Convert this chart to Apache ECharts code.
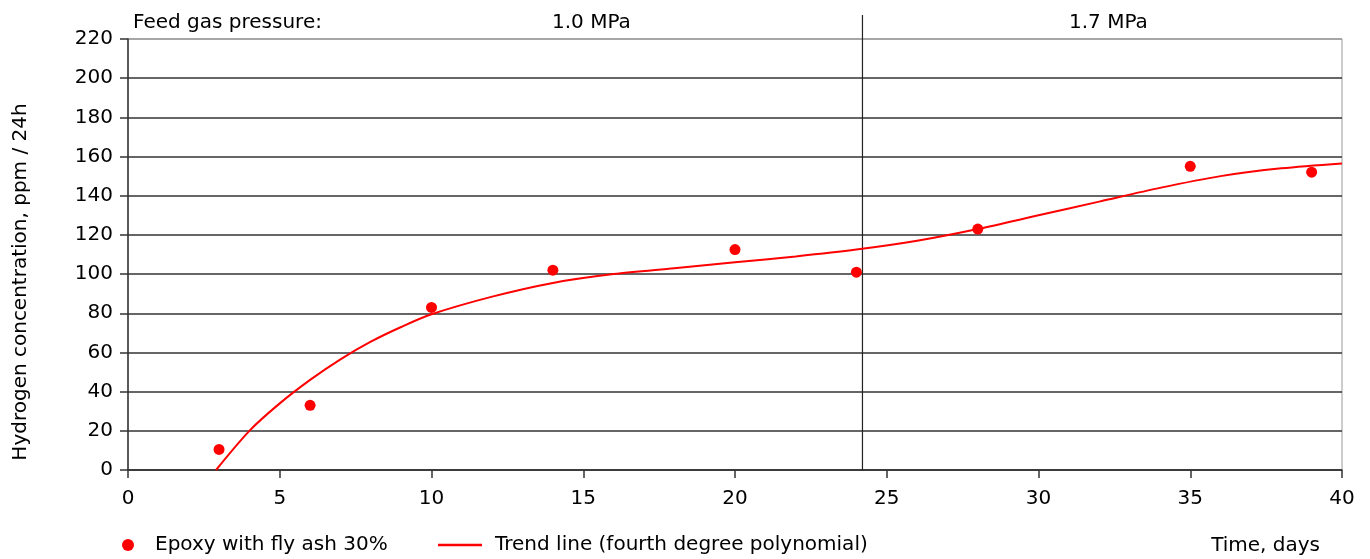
<!DOCTYPE html>
<html>
<head>
<meta charset="utf-8">
<script src="https://cdn.jsdelivr.net/npm/echarts@6/dist/echarts.min.js"></script>
<style>
    html, body {margin:0;padding:0;background:#fff;}
    #chart {width:1370px;height:559px;}
</style>
</head>
<body>
<div id="chart"></div>
<script>
    // measured points
    var dataDays = [3, 6, 10, 14, 20, 24, 28, 35, 39];
    var dataH2 = [10.5, 33, 83, 102, 112.5, 101, 123, 155, 152];

    // trend line (fourth degree polynomial)
    var trendDays = [2.9, 4, 5, 6, 7, 8, 9, 10, 12, 14, 16, 18, 20, 22, 24, 26, 28, 30, 32, 34, 36, 38, 40];
    var trendH2 = [0, 20, 34, 46, 56.5, 65.5, 73, 79.5, 88.5, 95.5, 100, 103, 106, 109, 112.5, 117, 123, 130, 137, 144, 150, 154, 156.5];

    var yTicks = [0, 20, 40, 60, 80, 100, 120, 140, 160, 180, 200, 220];
    var pressureChange = 24.2;
    var pressureLabels = ['Feed gas pressure:', '1.0 MPa', '1.7 MPa'];

    var font = '"DejaVu Sans", "Liberation Sans", Arial, sans-serif';
    var chart = echarts.init(document.getElementById('chart'));

    var splitColors = yTicks.map(function (v, i) { return i === yTicks.length - 1 ? '#9a9a9a' : '#333'; });

    var option = {
        animation: false,
        grid: {left: 128, right: 28, top: 39, bottom: 89, show: true, borderColor: '#9a9a9a', borderWidth: 1, backgroundColor: 'transparent'},
        xAxis: {
            type: 'value', min: 0, max: 40, interval: 5,
            axisLine: {lineStyle: {color: '#333', width: 1.5}},
            axisTick: {show: true, length: 8, lineStyle: {color: '#333', width: 1.5}},
            axisLabel: {color: '#000', fontSize: 20, fontFamily: font, margin: 19},
            splitLine: {show: false}
        },
        yAxis: {
            type: 'value', min: 0, max: 220, interval: 20,
            axisLine: {show: true, lineStyle: {color: '#333', width: 1.5}},
            axisTick: {show: true, length: 8, lineStyle: {color: '#333', width: 1.5}},
            axisLabel: {color: '#000', fontSize: 20, fontFamily: font, margin: 15},
            splitLine: {show: true, lineStyle: {color: splitColors, width: 1.5}}
        },
        legend: [{
            data: [{name: 'Epoxy with fly ash 30%', icon: 'circle'}],
            left: 117, bottom: -1, itemWidth: 12, itemHeight: 12,
            textStyle: {color: '#000', fontSize: 20, fontFamily: font, padding: [0, 0, 0, 16]}
        }, {
            data: [{name: 'Trend line (fourth degree polynomial)', icon: 'rect'}],
            left: 433, bottom: -1, itemWidth: 44, itemHeight: 2.5,
            textStyle: {color: '#000', fontSize: 20, fontFamily: font, padding: [0, 0, 0, 8]}
        }],
        graphic: [
            {type: 'text', left: 133, top: 13, style: {text: pressureLabels[0], fill: '#000', font: '20px ' + font}},
            {type: 'text', left: 552, top: 13, style: {text: pressureLabels[1], fill: '#000', font: '20px ' + font}},
            {type: 'text', left: 1069, top: 13, style: {text: pressureLabels[2], fill: '#000', font: '20px ' + font}},
            {type: 'text', right: 50, bottom: 3, style: {text: 'Time, days', fill: '#000', font: '20px ' + font}},
            {type: 'text', x: 21, y: 282, rotation: Math.PI / 2,
             style: {text: 'Hydrogen concentration, ppm / 24h', fill: '#000', font: '20px ' + font, align: 'center', verticalAlign: 'middle'}}
        ],
        series: [{
            name: 'Trend line (fourth degree polynomial)',
            type: 'line',
            data: trendDays.map(function (d, i) { return [d, trendH2[i]]; }),
            smooth: 0.3,
            showSymbol: false,
            lineStyle: {color: '#ff0000', width: 2},
            itemStyle: {color: '#ff0000'},
            z: 3
        }, {
            name: 'Epoxy with fly ash 30%',
            type: 'scatter',
            data: dataDays.map(function (d, i) { return [d, dataH2[i]]; }),
            symbolSize: 11,
            itemStyle: {color: '#ff0000', opacity: 1},
            z: 4
        }, {
            // pressure change divider, reaching above the plot area
            type: 'custom',
            clip: false,
            silent: true,
            data: [[pressureChange]],
            renderItem: function (params, api) {
                var p0 = api.coord([api.value(0), 0]);
                var p1 = api.coord([api.value(0), 220]);
                return {
                    type: 'line',
                    shape: {x1: p0[0], y1: p0[1], x2: p1[0], y2: p1[1] - 24},
                    style: {stroke: '#222', lineWidth: 1.2}
                };
            },
            z: 2
        }]
    };
    chart.setOption(option);
</script>
</body>
</html>
